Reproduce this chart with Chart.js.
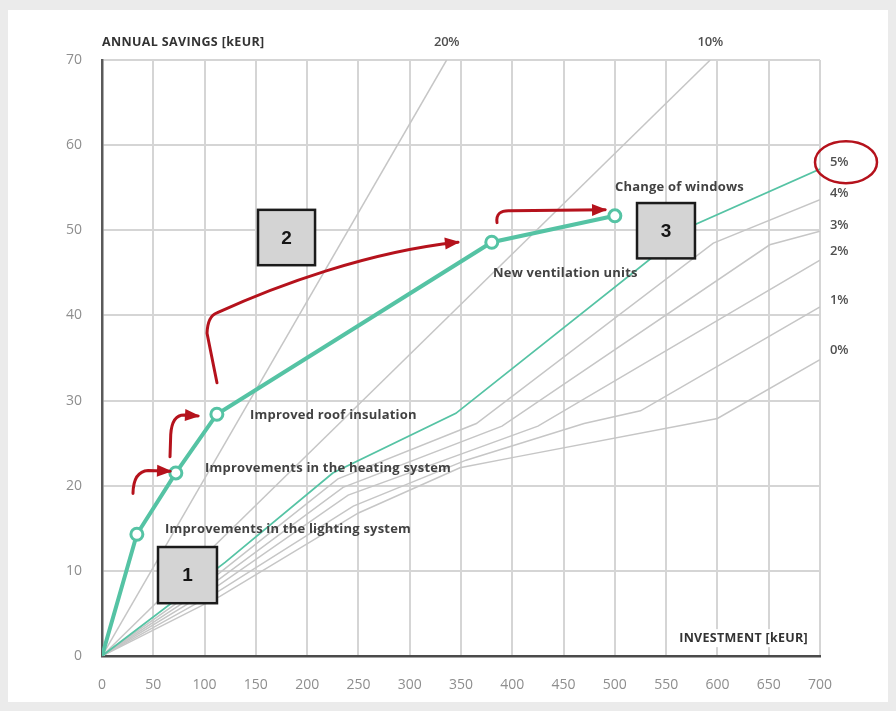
<!DOCTYPE html>
<html>
<head>
<meta charset="utf-8">
<script src="https://cdn.jsdelivr.net/npm/chart.js@4.4.1/dist/chart.umd.min.js"></script>
<style>
  html, body { margin: 0; padding: 0; background: #ebebeb; }
  #contenedor { width: 896px; height: 711px; }
</style>
</head>
<body>
<div id="contenedor"><canvas id="grafica" width="896" height="711"></canvas></div>
<script>
// Medidas acumuladas (inversion kEUR, ahorro anual kEUR)
const medidasInversion = [0, 34, 72, 112, 380, 500];
const medidasAhorro = [0, 14.3, 21.5, 28.4, 48.6, 51.7];
const medidasNombres = ["", "Improvements in the lighting system", "Improvements in the heating system",
    "Improved roof insulation", "New ventilation units", "Change of windows"];

// Lineas de rentabilidad rectas desde el origen
const linea20X = [0, 336];
const linea20Y = [0, 70];
const linea10X = [0, 593];
const linea10Y = [0, 70];

// Curvas por porcentaje (5% es la verde fina)
const curvaEtiquetas = ["5%", "4%", "3%", "2%", "1%", "0%"];
const curva5X = [0, 120, 225, 345, 575, 700];
const curva5Y = [0, 11, 21.5, 28.5, 50.5, 57.2];
const curva4X = [0, 115, 230, 365, 596, 700];
const curva4Y = [0, 9.8, 20.8, 27.3, 48.5, 53.6];
const curva3X = [0, 115, 235, 390, 651, 700];
const curva3Y = [0, 9.1, 19.8, 27, 48.3, 49.9];
const curva2X = [0, 115, 240, 425, 700];
const curva2Y = [0, 8.4, 18.9, 27, 46.5];
const curva1X = [0, 115, 245, 355, 470, 525, 700];
const curva1Y = [0, 7.7, 17.6, 23, 27.3, 28.8, 41];
const curva0X = [0, 115, 250, 349, 400, 600, 700];
const curva0Y = [0, 7, 16.8, 22.1, 23.3, 27.9, 34.8];

// Posicion de las etiquetas de porcentaje a la derecha (kEUR)
const etiquetaPctY = [58.0, 54.4, 50.6, 47.5, 41.8, 35.9];

// Ticks de los ejes
const ticksX = [0, 50, 100, 150, 200, 250, 300, 350, 400, 450, 500, 550, 600, 650, 700];
const ticksY = [0, 10, 20, 30, 40, 50, 60, 70];

const VERDE = "#55c3a4";
const GRIS = "#c6c6c6";
const ROJO = "#b5121c";

function puntos(xs, ys) {
    return xs.map((x, i) => ({ x: x, y: ys[i] }));
}

function lineaGris(xs, ys) {
    return {
        data: puntos(xs, ys),
        showLine: true,
        borderColor: GRIS,
        borderWidth: 1.5,
        pointRadius: 0,
        tension: 0
    };
}

// anotaciones en unidades de datos
const textos = [
    { t: medidasNombres[1], x: 61.4, y: 14.9 },
    { t: medidasNombres[2], x: 100.4, y: 22.1 },
    { t: medidasNombres[3], x: 144.3, y: 28.3 },
    { t: medidasNombres[4], x: 381.2, y: 45.0 },
    { t: medidasNombres[5], x: 500.1, y: 55.1 }
];
const cajas = [
    { n: "1", x0: 54.6, x1: 112.1, y0: 12.8, y1: 6.2 },
    { n: "2", x0: 152.1, x1: 207.7, y0: 52.4, y1: 45.9 },
    { n: "3", x0: 521.6, x1: 578.1, y0: 53.2, y1: 46.7 }
];
const flechas = [
    [["M", 30.2, 19.1], ["Q", 30.6, 21.7, 45, 21.8], ["L", 66.3, 21.7]],
    [["M", 66.3, 23.4], ["L", 67.0, 26.0], ["Q", 68.2, 28.3, 80, 28.3], ["L", 93.6, 28.2]],
    [["M", 112.1, 32.1], ["L", 102.4, 37.9], ["Q", 103.0, 39.9, 112, 40.3], ["C", 170, 43.5, 260, 47.5, 347, 48.6]],
    [["M", 385.1, 50.9], ["Q", 383.5, 52.4, 398, 52.3], ["L", 490.4, 52.4]]
];

const marcoPlugin = {
    id: "marco",
    beforeDraw(chart) {
        const ctx = chart.ctx;
        ctx.save();
        ctx.fillStyle = "#ebebeb";
        ctx.fillRect(0, 0, chart.width, chart.height);
        ctx.fillStyle = "#ffffff";
        ctx.fillRect(8, 10, 880, 692);
        ctx.restore();
    }
};

const anotacionesPlugin = {
    id: "anotaciones",
    afterDraw(chart) {
        const ctx = chart.ctx;
        const sx = chart.scales.x;
        const sy = chart.scales.y;
        const area = chart.chartArea;
        const px = v => sx.getPixelForValue(v);
        const py = v => sy.getPixelForValue(v);
        ctx.save();

        // titulos de ejes
        ctx.fillStyle = "#333333";
        ctx.font = "700 12.5px 'Open Sans'";
        ctx.letterSpacing = "0.35px";
        ctx.textBaseline = "middle";
        ctx.textAlign = "left";
        ctx.fillText("ANNUAL SAVINGS [kEUR]", area.left, area.top - 18);
        ctx.letterSpacing = "0.3px";
        ctx.textAlign = "right";
        const anchoInv = ctx.measureText("INVESTMENT [kEUR]").width;
        ctx.fillStyle = "#ffffff";
        ctx.fillRect(px(688.3) - anchoInv - 4, py(2.1) - 9, anchoInv + 8, 18);
        ctx.fillStyle = "#333333";
        ctx.fillText("INVESTMENT [kEUR]", px(688.3), py(2.1));

        // porcentajes arriba
        ctx.font = "600 13px 'Open Sans'";
        ctx.letterSpacing = "-0.2px";
        ctx.fillStyle = "#505050";
        ctx.textAlign = "center";
        ctx.fillText("20%", px(linea20X[1]), area.top - 18);
        ctx.fillText("10%", px(linea10X[1]), area.top - 18);

        // porcentajes a la derecha
        ctx.textAlign = "left";
        curvaEtiquetas.forEach((et, i) => {
            ctx.fillText(et, area.right + 10, py(etiquetaPctY[i]));
        });

        // nombres de medidas
        ctx.font = "700 13px 'Open Sans'";
        ctx.letterSpacing = "0.2px";
        ctx.fillStyle = "#424242";
        textos.forEach(tx => {
            ctx.fillText(tx.t, px(tx.x), py(tx.y));
        });
        ctx.letterSpacing = "0px";

        // cajas numeradas
        cajas.forEach(c => {
            const x0 = px(c.x0), x1 = px(c.x1), y0 = py(c.y0), y1 = py(c.y1);
            ctx.fillStyle = "#d4d4d4";
            ctx.fillRect(x0, y0, x1 - x0, y1 - y0);
            ctx.strokeStyle = "#1b1b1b";
            ctx.lineWidth = 2.5;
            ctx.strokeRect(x0, y0, x1 - x0, y1 - y0);
            ctx.fillStyle = "#151515";
            ctx.font = "700 19px 'Liberation Sans'";
            ctx.textAlign = "center";
            ctx.fillText(c.n, (x0 + x1) / 2, (y0 + y1) / 2 + 1);
        });

        // flechas rojas
        ctx.strokeStyle = ROJO;
        ctx.fillStyle = ROJO;
        ctx.lineWidth = 3;
        ctx.lineCap = "round";
        ctx.lineJoin = "round";
        flechas.forEach(f => {
            ctx.beginPath();
            let prev = null, last = null;
            f.forEach(cmd => {
                if (cmd[0] === "M") {
                    ctx.moveTo(px(cmd[1]), py(cmd[2]));
                    last = [px(cmd[1]), py(cmd[2])];
                } else if (cmd[0] === "L") {
                    prev = last;
                    last = [px(cmd[1]), py(cmd[2])];
                    ctx.lineTo(last[0], last[1]);
                } else if (cmd[0] === "Q") {
                    prev = [px(cmd[1]), py(cmd[2])];
                    last = [px(cmd[3]), py(cmd[4])];
                    ctx.quadraticCurveTo(prev[0], prev[1], last[0], last[1]);
                } else if (cmd[0] === "C") {
                    prev = [px(cmd[3]), py(cmd[4])];
                    last = [px(cmd[5]), py(cmd[6])];
                    ctx.bezierCurveTo(px(cmd[1]), py(cmd[2]), prev[0], prev[1], last[0], last[1]);
                }
            });
            ctx.stroke();
            // punta de flecha
            const ang = Math.atan2(last[1] - prev[1], last[0] - prev[0]);
            const L = 13, W = 6;
            ctx.beginPath();
            ctx.moveTo(last[0] + 2 * Math.cos(ang), last[1] + 2 * Math.sin(ang));
            ctx.lineTo(last[0] - L * Math.cos(ang) + W * Math.sin(ang), last[1] - L * Math.sin(ang) - W * Math.cos(ang));
            ctx.lineTo(last[0] - L * Math.cos(ang) - W * Math.sin(ang), last[1] - L * Math.sin(ang) + W * Math.cos(ang));
            ctx.closePath();
            ctx.fill();
        });

        // elipse roja alrededor del 5%
        ctx.beginPath();
        ctx.lineWidth = 2.5;
        ctx.ellipse(area.right + 26, py(etiquetaPctY[0]), 31, 21, 0, 0, Math.PI * 2);
        ctx.stroke();

        ctx.restore();
    }
};

const datasets = [
    {
        data: puntos(medidasInversion, medidasAhorro),
        showLine: true,
        borderColor: VERDE,
        borderWidth: 4,
        pointRadius: [0, 6, 6, 6, 6, 6],
        pointBackgroundColor: "#ffffff",
        pointBorderColor: VERDE,
        pointBorderWidth: 3,
        tension: 0
    },
    {
        data: puntos(curva5X, curva5Y),
        showLine: true,
        borderColor: VERDE,
        borderWidth: 1.8,
        pointRadius: 0,
        tension: 0
    },
    lineaGris(curva4X, curva4Y),
    lineaGris(curva3X, curva3Y),
    lineaGris(curva2X, curva2Y),
    lineaGris(curva1X, curva1Y),
    lineaGris(curva0X, curva0Y),
    lineaGris(linea20X, linea20Y),
    lineaGris(linea10X, linea10Y)
];

new Chart(document.getElementById("grafica"), {
    type: "scatter",
    data: { datasets: datasets },
    options: {
        responsive: false,
        devicePixelRatio: 1,
        animation: false,
        layout: { padding: { left: 0, right: 76, top: 60, bottom: 0 } },
        plugins: {
            legend: { display: false },
            tooltip: { enabled: false }
        },
        scales: {
            x: {
                type: "linear",
                min: 0,
                max: 700,
                afterFit: (scale) => { scale.height = 55; },
                afterBuildTicks: (scale) => { scale.ticks = ticksX.map(v => ({ value: v })); },
                ticks: {
                    color: "#8e8e8e",
                    font: { family: "'Open Sans'", size: 14 },
                    padding: 21,
                    maxRotation: 0
                },
                grid: { color: "#d5d5d5", lineWidth: 2, drawTicks: false },
                border: { color: "#4a4a4a", width: 2.5 }
            },
            y: {
                type: "linear",
                min: 0,
                max: 70,
                afterFit: (scale) => { scale.width = 102; },
                afterBuildTicks: (scale) => { scale.ticks = ticksY.map(v => ({ value: v })); },
                ticks: {
                    color: "#8e8e8e",
                    font: { family: "'Open Sans'", size: 14 },
                    padding: 20
                },
                grid: { color: "#d5d5d5", lineWidth: 2, drawTicks: false },
                border: { color: "#5a5a5a", width: 2.5 }
            }
        }
    },
    plugins: [marcoPlugin, anotacionesPlugin]
});
</script>
</body>
</html>
